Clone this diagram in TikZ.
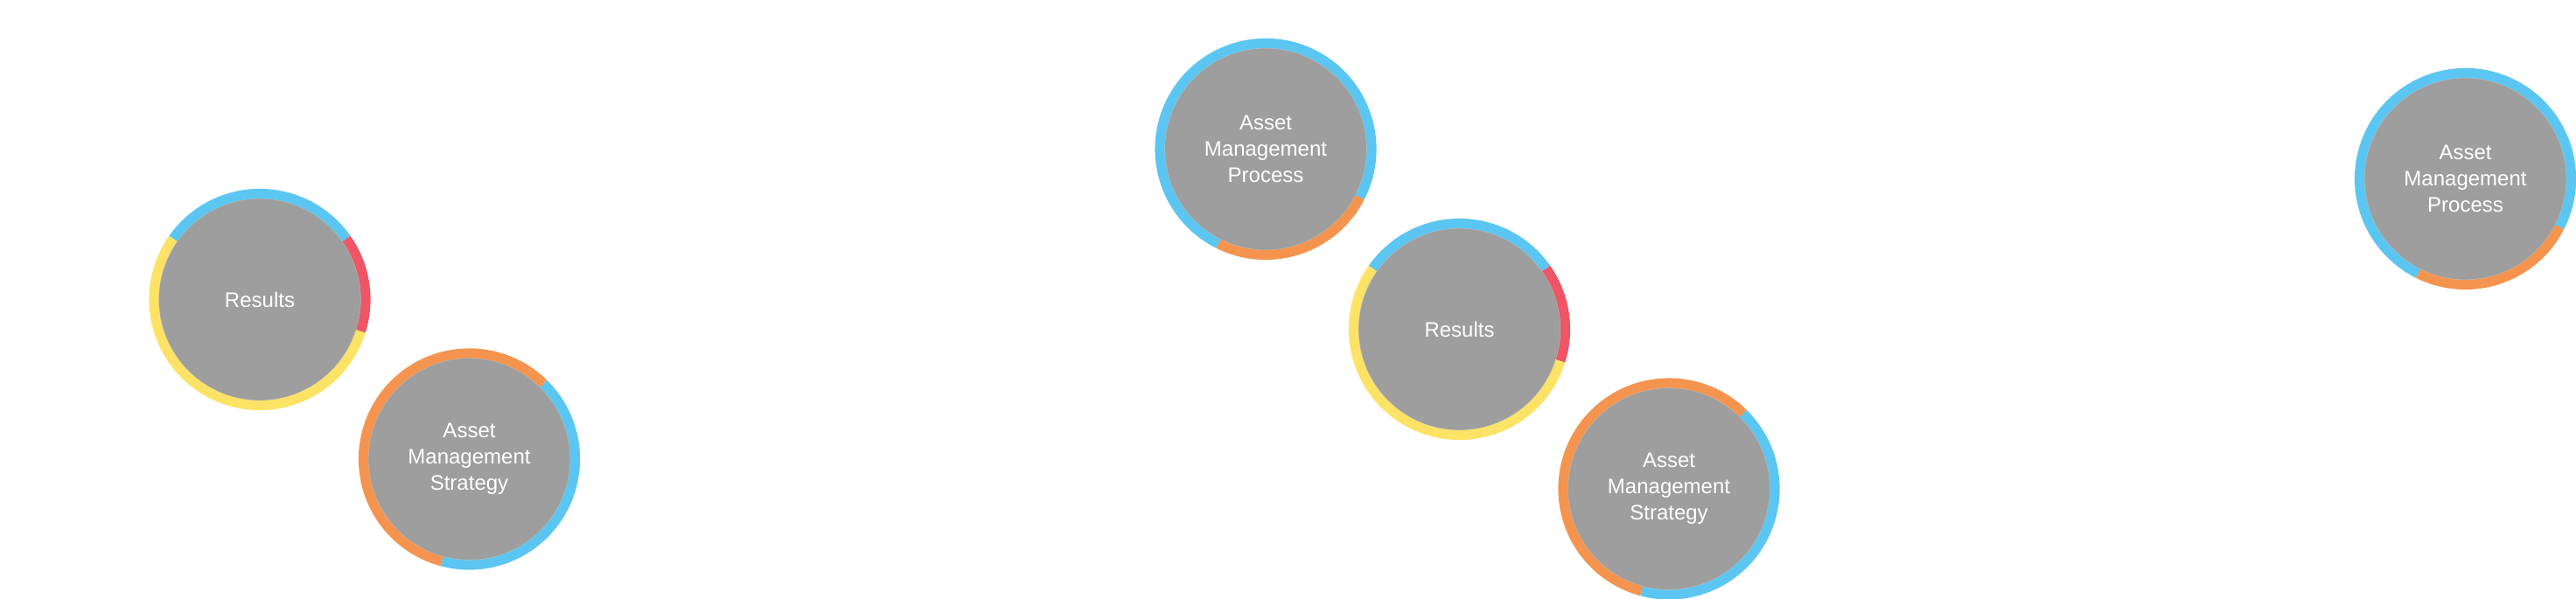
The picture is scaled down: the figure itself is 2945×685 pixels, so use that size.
\documentclass[tikz,border=0pt]{standalone}
\usepackage{fontspec}
\setmainfont{Liberation Sans}
\definecolor{cgray}{HTML}{9D9E9D}
\definecolor{cedge}{HTML}{BDBDBD}
\definecolor{cblue}{HTML}{5BC6F1}
\definecolor{cred}{HTML}{EE5566}
\definecolor{cyellow}{HTML}{FDE365}
\definecolor{corange}{HTML}{F4944F}
\tikzset{
  disc/.style={circle, fill=cgray, draw=cedge, line width=0.6pt,
    minimum size=115.7pt, inner sep=0pt, text=white, align=center,
    font=\fontsize{12}{15}\selectfont},
  ring/.style={line width=5.5pt, line cap=butt}
}
\newcommand{\ringarc}[4]{% node, color, start, end
  \draw[ring, #2] (#1.center) ++(#3:60.55pt) arc[start angle=#3, end angle=#4, radius=60.55pt];}
\begin{document}
\begin{tikzpicture}[x=0.5pt, y=0.5pt]
\fill[white] (0,0) rectangle (2945,685);
\useasboundingbox (0,0) rectangle (2945,685);

% left group
\node[disc] (res1) at (297,342.5) {Results};
\node[disc] (str1) at (536.5,160) {Asset\\Management\\Strategy};
% middle group
\node[disc] (pro2) at (1447,514.5) {Asset\\Management\\Process};
\node[disc] (res2) at (1668.5,308.5) {Results};
\node[disc] (str2) at (1908,126) {Asset\\Management\\Strategy};
% right group
\node[disc] (pro3) at (2818.5,480.5) {Asset\\Management\\Process};

\foreach \n in {res1,res2}{
  \ringarc{\n}{cblue}{35}{145}
  \ringarc{\n}{cred}{-17.5}{35}
  \ringarc{\n}{cyellow}{145}{342.5}
}
\foreach \n in {str1,str2}{
  \ringarc{\n}{cblue}{-105}{45.5}
  \ringarc{\n}{corange}{45.5}{255}
}
\foreach \n in {pro2,pro3}{
  \ringarc{\n}{corange}{-116.5}{-27}
  \ringarc{\n}{cblue}{-27}{243.5}
}
\end{tikzpicture}
\end{document}
